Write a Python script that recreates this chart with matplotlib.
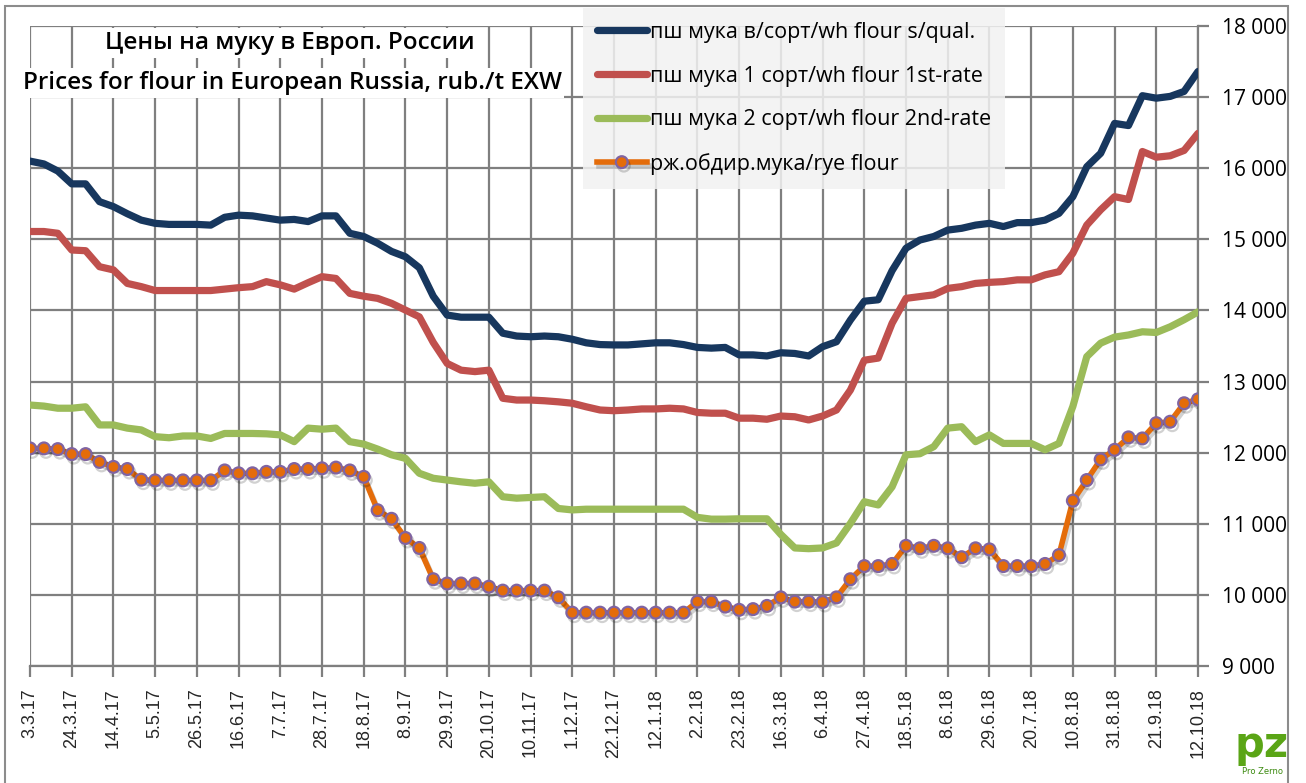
import matplotlib
matplotlib.use("Agg")
import matplotlib.pyplot as plt
import matplotlib.patheffects as pe
from matplotlib.patches import Rectangle

# Данные: недельные цены, 3.3.17 ... 12.10.18 (85 недель)
tick_labels = ["3.3.17", "24.3.17", "14.4.17", "5.5.17", "26.5.17", "16.6.17", "7.7.17",
               "28.7.17", "18.8.17", "8.9.17", "29.9.17", "20.10.17", "10.11.17", "1.12.17",
               "22.12.17", "12.1.18", "2.2.18", "23.2.18", "16.3.18", "6.4.18", "27.4.18",
               "18.5.18", "8.6.18", "29.6.18", "20.7.18", "10.8.18", "31.8.18", "21.9.18",
               "12.10.18"]

flour_top = [16100, 16060, 15960, 15780, 15780, 15530, 15460, 15360, 15270, 15225,
             15210, 15210, 15210, 15200, 15310, 15340, 15330, 15300, 15270, 15280,
             15250, 15330, 15330, 15085, 15040, 14945, 14830, 14755, 14600, 14200,
             13935, 13905, 13905, 13905, 13680, 13640, 13630, 13640, 13630, 13595,
             13545, 13520, 13515, 13515, 13530, 13545, 13545, 13520, 13480, 13470,
             13480, 13375, 13375, 13360, 13405, 13395, 13360, 13490, 13560, 13865,
             14130, 14150, 14560, 14875, 14990, 15040, 15130, 15155, 15200, 15225,
             15180, 15235, 15235, 15270, 15365, 15600, 16020, 16210, 16630, 16600,
             17020, 16985, 17010, 17080, 17360]

flour_1st = [15110, 15110, 15085, 14850, 14840, 14615, 14570, 14380, 14335, 14280,
             14280, 14280, 14280, 14280, 14300, 14320, 14335, 14405, 14360, 14300,
             14390, 14475, 14450, 14240, 14200, 14170, 14100, 14005, 13910, 13550,
             13255, 13160, 13140, 13160, 12765, 12740, 12740, 12730, 12715, 12695,
             12645, 12600, 12590, 12600, 12615, 12615, 12625, 12615, 12565, 12555,
             12555, 12485, 12485, 12470, 12515, 12505, 12460, 12515, 12600, 12880,
             13300, 13330, 13820, 14170, 14195, 14220, 14310, 14335, 14380, 14395,
             14405, 14430, 14430, 14500, 14545, 14805, 15200, 15415, 15600, 15560,
             16235, 16155, 16175, 16250, 16490]

flour_2nd = [12670, 12655, 12625, 12625, 12645, 12390, 12390, 12345, 12320, 12225,
             12210, 12235, 12235, 12200, 12270, 12270, 12270, 12265, 12250, 12155,
             12345, 12330, 12345, 12155, 12120, 12050, 11970, 11920, 11710, 11640,
             11615, 11590, 11570, 11590, 11380, 11360, 11370, 11380, 11215, 11195,
             11205, 11205, 11205, 11205, 11205, 11205, 11205, 11205, 11090, 11065,
             11065, 11070, 11070, 11070, 10850, 10660, 10650, 10660, 10730, 11005,
             11310, 11265, 11520, 11970, 11985, 12085, 12345, 12365, 12155, 12250,
             12130, 12130, 12130, 12040, 12130, 12650, 13350, 13540, 13625, 13655,
             13700, 13690, 13770, 13870, 13980]

rye = [12060, 12060, 12050, 11980, 11980, 11870, 11800, 11770, 11620, 11610,
       11610, 11610, 11610, 11610, 11750, 11710, 11710, 11730, 11730, 11770,
       11770, 11780, 11790, 11750, 11660, 11190, 11070, 10800, 10660, 10220,
       10160, 10160, 10160, 10115, 10060, 10060, 10060, 10060, 9965, 9750,
       9750, 9750, 9750, 9750, 9750, 9750, 9750, 9750, 9905, 9905,
       9835, 9790, 9800, 9845, 9965, 9905, 9905, 9900, 9965, 10220,
       10405, 10405, 10435, 10690, 10655, 10690, 10655, 10530, 10655, 10640,
       10405, 10405, 10405, 10435, 10560, 11325, 11615, 11905, 12040, 12215,
       12200, 12415, 12435, 12695, 12750]

labels = ["пш мука в/сорт/wh flour s/qual.", "пш мука 1 сорт/wh flour 1st-rate",
          "пш мука 2 сорт/wh flour 2nd-rate", "рж.обдир.мука/rye flour"]

weeks = list(range(len(rye)))
fnt = ["Open Sans", "DejaVu Sans"]
grid_c = "#7f7f7f"

fig = plt.figure(figsize=(13.06, 7.83), dpi=100)
W, H = 1306, 783
ax = fig.add_axes([30 / W, 1 - 666 / H, 1168 / W, 640 / H])

lw = 5.2
ax.plot(weeks, flour_top, color="#17375E", lw=lw, solid_joinstyle="round", solid_capstyle="round", label=labels[0], zorder=3)
ax.plot(weeks, flour_1st, color="#C0504D", lw=lw, solid_joinstyle="round", solid_capstyle="round", label=labels[1], zorder=3)
ax.plot(weeks, flour_2nd, color="#9BBB59", lw=lw, solid_joinstyle="round", solid_capstyle="round", label=labels[2], zorder=3)
ax.plot(weeks, rye, color="#E46C0A", lw=4, marker="o", ms=8.5, mfc="#E46C0A", mec="#8064A2", mew=1.6,
        label=labels[3], zorder=4,
        path_effects=[pe.SimpleLineShadow(offset=(1.5, -2.5), alpha=0.18), pe.Normal()])

ax.set_xlim(0, 84)
ax.set_ylim(9000, 18000)
ax.set_xticks(range(0, 85, 3))
ax.set_xticklabels(tick_labels, rotation=90, fontsize=13, family="Liberation Sans", color="#262626")
yt = list(range(9000, 18001, 1000))
ax.set_yticks(yt)
ax.set_yticklabels(["{:,}".format(v).replace(",", " ") for v in yt], fontsize=15, family=fnt)
ax.yaxis.tick_right()
ax.grid(True, color=grid_c, lw=1.6)
ax.set_axisbelow(True)
for s in ["top", "left"]:
    ax.spines[s].set_visible(False)
for s in ["right", "bottom"]:
    ax.spines[s].set_color(grid_c)
    ax.spines[s].set_linewidth(1.6)
ax.tick_params(axis="both", direction="out", length=8, width=1.6, color=grid_c)
ax.tick_params(axis="y", pad=9)
ax.tick_params(axis="x", pad=8)

# заголовок
fig.text(290 / W, 1 - 43 / H, "Цены на муку в Европ. России", ha="center", va="center",
         fontsize=17.5, weight="semibold", family=fnt,
         bbox=dict(facecolor="white", edgecolor="none", pad=2))
fig.text(292 / W, 1 - 83 / H, "Prices for flour in European Russia, rub./t EXW", ha="center", va="center",
         fontsize=17.5, weight="semibold", family=fnt,
         bbox=dict(facecolor="white", edgecolor="none", pad=2))

leg = fig.legend(loc="upper left", bbox_to_anchor=(583 / W, 1 - 8 / H), prop={"family": fnt, "size": 15.5},
                 frameon=True, facecolor="#F2F2F2", edgecolor="none", framealpha=0.85, fancybox=False,
                 handlelength=2.3, handletextpad=0.15, labelspacing=1.05, borderpad=0.65, borderaxespad=0)

# рамка и логотип
fig.add_artist(Rectangle((5 / W, -0.05), 1283 / W, 1 - 6 / H + 0.05, transform=fig.transFigure,
                         fill=False, ec="#8c8c8c", lw=1.5))
fig.text(1262 / W, 1 - 745 / H, "pz", ha="center", va="center", fontsize=30, weight="bold", color="#5AA516")
fig.text(1262 / W, 1 - 772 / H, "Pro Zerno", ha="center", va="center", fontsize=6, color="#3C8A10")

plt.savefig("out.png", dpi=100)
